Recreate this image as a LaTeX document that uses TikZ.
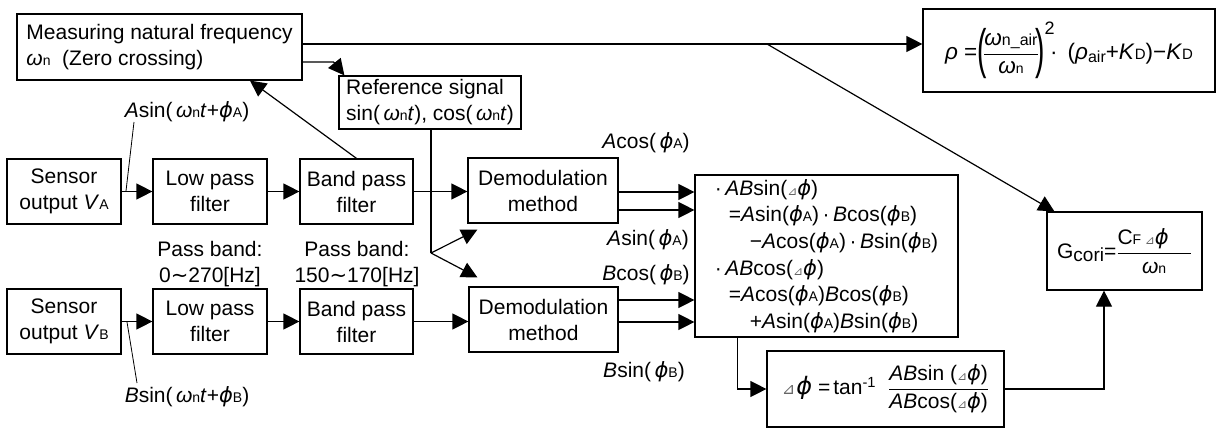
\documentclass[tikz,border=0pt]{standalone}
\usepackage{graphicx}
\usepackage{fontspec}
\setmainfont{Liberation Sans}
\newfontfamily\dv{DejaVu Sans}
\usetikzlibrary{arrows.meta,calc}
\newcommand\vi[1]{\textit{#1}}
\newcommand\lsub[1]{{\fontsize{14}{14}\selectfont #1}}
\newcommand\dsub[1]{\raisebox{-3pt}{\fontsize{16}{16}\selectfont #1}}
\newcommand\ph{{\dv\itshape ϕ}}
\newcommand\om{\textit{ω}}
\newcommand\dl{{\dv\fontsize{12}{12}\selectfont\color{black!60}⊿}}
\newcommand\dlb{{\dv\fontsize{16}{16}\selectfont\color{black!60}⊿}}
\newcommand\wn{\om\lsub{n}}
\newcommand\wv{{\dv ∼}}
\newcommand\bigpar[1]{\vcenter{\hbox{\scalebox{1.25}[2.4]{#1}}}}
\tikzset{
  box/.style={draw,line width=1.2pt,inner sep=0pt,align=center},
  arr/.style={line width=1.2pt,-{Triangle[length=16pt,width=16pt]}},
  ln/.style={line width=1.2pt},
  lbl/.style={inner sep=0pt,align=center}
}
\begin{document}
\begin{tikzpicture}[x=1pt,y=-1pt,font=\fontsize{21}{26}\selectfont]
\useasboundingbox (0,0) rectangle (1226,428);
% boxes
\node[box,align=left,minimum width=285pt,minimum height=66pt] (meas) at (159.5,47) {Measuring natural frequency\\\wn\ \ (Zero crossing)};
\node[box,align=left,minimum width=182pt,minimum height=53pt] (ref) at (430,102.5) {Reference signal\\sin(\,\wn\vi{t}), cos(\,\wn\vi{t})};
\node[box,minimum width=292pt,minimum height=83pt,font=\fontsize{22.5}{27}\selectfont] (rho) at (1069,50.5) {\vi{ρ} =$\bigpar{(}\!\displaystyle\frac{\mbox{\om{\fontsize{16}{16}\selectfont n\_air}}}{\mbox{\om\lsub{n}}}\!\bigpar{)}^{\mbox{\fontsize{18}{18}\selectfont 2}}$\hspace{-5pt}\mbox{·}\, (\vi{ρ}\dsub{air}+\vi{K}{\fontsize{15}{15}\selectfont D})−\vi{K}{\fontsize{15}{15}\selectfont D}};
\node[box,minimum width=114pt,minimum height=65pt] (sensA) at (64,191.5) {Sensor\\output \vi{V}\lsub{A}};
\node[box,minimum width=114pt,minimum height=65pt] (lpfA) at (210,191.5) {Low pass\\filter};
\node[box,minimum width=113pt,minimum height=65pt] (bpfA) at (356.5,191.5) {Band pass\\filter};
\node[box,minimum width=150pt,minimum height=65pt] (demA) at (543,190.5) {Demodulation\\method};
\node[box,minimum width=114pt,minimum height=65pt] (sensB) at (64,321.5) {Sensor\\output \vi{V}\lsub{B}};
\node[box,minimum width=114pt,minimum height=65pt] (lpfB) at (210,321.5) {Low pass\\filter};
\node[box,minimum width=113pt,minimum height=65pt] (bpfB) at (356.5,321.5) {Band pass\\filter};
\node[box,minimum width=149pt,minimum height=65pt] (demB) at (543.5,319.5) {Demodulation\\method};
\node[box,align=left,minimum width=263pt,minimum height=162pt,font=\fontsize{21}{26.6}\selectfont] (ab) at (826.5,256) {·\,\vi{AB}sin(\dl\ph)\\
\hspace*{14pt}=\vi{A}sin(\ph\lsub{A})\,·\,\vi{B}cos(\ph\lsub{B})\\
\hspace*{35pt}−\vi{A}cos(\ph\lsub{A})\,·\,\vi{B}sin(\ph\lsub{B})\\
·\,\vi{AB}cos(\dl\ph)\\
\hspace*{14pt}=\vi{A}cos(\ph\lsub{A})\vi{B}cos(\ph\lsub{B})\\
\hspace*{35pt}+\vi{A}sin(\ph\lsub{A})\vi{B}sin(\ph\lsub{B})};
\node[box,minimum width=237pt,minimum height=76pt] (dphi) at (885.5,389) {\dlb\hspace{1pt}{\fontsize{24}{24}\selectfont\ph}\hspace{6pt}=\hspace{3pt}tan\textsuperscript{-1}\hspace{12pt}$\displaystyle\frac{\mbox{\vi{AB}sin (\dl\ph)}}{\mbox{\vi{AB}cos(\dl\ph)}}$};
\node[box,minimum width=155pt,minimum height=78pt] (gcori) at (1124.5,251) {G\dsub{\fontsize{19}{19}\selectfont cori}=$\displaystyle\frac{\mbox{C\lsub{F}\,\dl\ph\hspace{22pt}}}{\mbox{\wn}}$};
% labels
\node[lbl] (lblA) at (187,112) {\vi{A}sin(\,\wn\vi{t}+\ph\lsub{A})};
\node[lbl] (lblB) at (187,397) {\vi{B}sin(\,\wn\vi{t}+\ph\lsub{B})};
\node[lbl] (pb1) at (210,264) {Pass band:\\0\wv270[Hz]};
\node[lbl] (pb2) at (357,264) {Pass band:\\150\wv170[Hz]};
\node[lbl] (oa1) at (646,143) {\vi{A}cos(\,\ph\lsub{A})};
\node[lbl] (oa2) at (648,240) {\vi{A}sin(\,\ph\lsub{A})};
\node[lbl] (ob1) at (646,275) {\vi{B}cos(\,\ph\lsub{B})};
\node[lbl] (ob2) at (644,372) {\vi{B}sin(\,\ph\lsub{B})};
% coordinates
\coordinate (s1) at (767,44);
\coordinate (br) at (431,253);
\coordinate (la1) at (126,191);
\coordinate (la2) at (134,122);
\coordinate (lb1) at (127,322);
\coordinate (lb2) at (137,383);
% connectors
\draw[arr] ([yshift=3pt]meas.east) coordinate (m1) -- (m1 -| rho.west);
\draw[arr] (s1) -- ([xshift=8pt]gcori.north west);
\draw[arr] ([yshift=-15pt]meas.east) -- ++(31,0) -- ([xshift=6pt]ref.north west);
\draw[arr] (bpfA.north) -- ([xshift=90.5pt]meas.south);
\draw[arr] (sensA.east) -- (lpfA.west);
\draw[arr] (lpfA.east) -- (bpfA.west);
\draw[arr] (bpfA.east) -- (bpfA.east -| demA.west);
\draw[arr] (sensB.east) -- (lpfB.west);
\draw[arr] (lpfB.east) -- (bpfB.west);
\draw[arr] (bpfB.east) -- (bpfB.east -| demB.west);
\draw[ln] (ref.south -| br) -- (br);
\draw[arr] (br) -- ([xshift=10pt,yshift=-6pt]demA.south west);
\draw[arr] (br) -- ([xshift=9pt,yshift=9pt]demB.north west);
\draw[arr] ([yshift=-1.5pt]demA.east) coordinate (d1) -- (d1 -| ab.west);
\draw[arr] ([yshift=-19.5pt]demA.east) coordinate (d2) -- (d2 -| ab.west);
\draw[arr] ([yshift=19.5pt]demB.east) coordinate (d3) -- (d3 -| ab.west);
\draw[arr] ([yshift=-2.5pt]demB.east) coordinate (d4) -- (d4 -| ab.west);
\draw[arr] ([xshift=43pt]ab.south west) |- (dphi.west);
\draw[arr] (dphi.east) -| ([xshift=-20.5pt]gcori.south);
\draw[line width=0.8pt] (la1) -- (la2);
\draw[line width=0.8pt] (lb1) -- (lb2);
\end{tikzpicture}
\end{document}
